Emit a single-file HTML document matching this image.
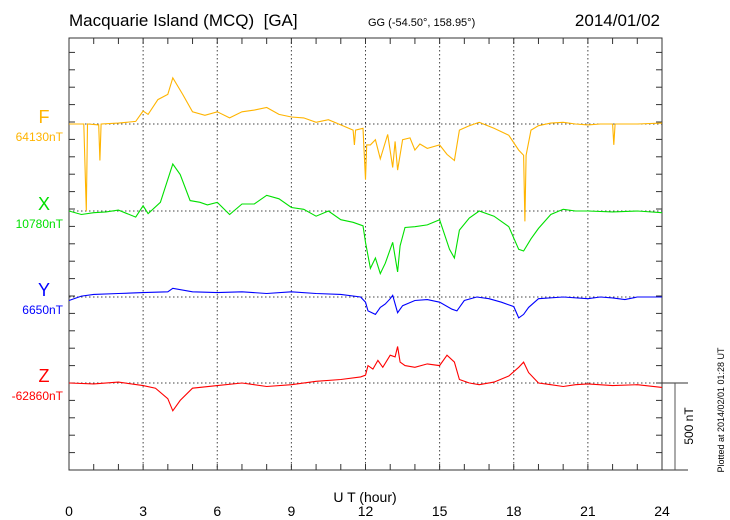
<!DOCTYPE html>
<html><head><meta charset="utf-8"><style>
body{margin:0;background:#fff;}
svg{display:block;font-family:"Liberation Sans",sans-serif;}
</style></head><body>
<svg id="c" width="730" height="520">
<text x="69" y="26" font-size="17">Macquarie Island (MCQ)&#160; [GA]</text>
<text x="368" y="26" font-size="11">GG (-54.50°, 158.95°)</text>
<text x="660" y="26" font-size="17" text-anchor="end">2014/01/02</text>
<text x="365" y="502" font-size="14" text-anchor="middle">U T (hour)</text>
<text transform="translate(724,410) rotate(-90)" font-size="9" text-anchor="middle">Plotted at 2014/02/01 01:28 UT</text>
<text transform="translate(693,426) rotate(-90)" font-size="12" text-anchor="middle">500 nT</text>
<g id="g"></g>
</svg>
<script>
const hoursF=[0,0.6,0.7,0.75,1.2,1.25,1.3,2,2.7,3,3.2,3.6,4.0,4.2,4.6,5,5.5,6,6.5,7,7.5,8,8.5,9,9.5,10,10.5,11,11.5,11.55,11.6,11.9,12,12.05,12.2,12.4,12.6,12.9,13.1,13.2,13.3,13.5,13.8,14,14.2,14.5,15,15.3,15.6,15.8,16.2,16.6,17.2,17.8,18.2,18.4,18.45,18.5,18.7,19,19.5,20,20.5,21,21.5,22,22.05,22.1,23,24];
const valsF=[0,0,-500,0,-5,-210,0,5,15,75,55,140,170,265,170,70,50,70,35,70,80,95,55,40,35,10,25,-5,-35,-120,-35,-25,-320,-120,-120,-90,-200,-60,-250,-100,-265,-90,-80,-150,-115,-140,-120,-175,-210,-35,-10,10,-25,-65,-150,-180,-560,-180,-35,-10,5,10,0,-5,0,0,-120,0,0,5];
const hoursX=[0,0.5,1,1.5,2,2.7,3,3.2,3.7,4.2,4.5,4.9,5.3,5.6,6,6.5,7,7.5,8,8.5,9,9.5,10,10.5,11,11.5,11.9,12,12.2,12.4,12.6,12.8,13.1,13.3,13.4,13.6,14,14.5,15,15.4,15.6,15.8,16.2,16.6,17.2,17.8,18.2,18.4,18.7,19,19.5,20,20.5,21,22,23,24];
const valsX=[0,-20,-10,-5,5,-35,30,-15,50,270,210,60,50,35,50,-20,40,40,90,70,20,10,-30,0,-50,-65,-85,-180,-330,-270,-360,-300,-180,-350,-200,-95,-90,-80,-50,-220,-270,-110,-40,0,-30,-90,-220,-230,-160,-100,-20,10,0,0,-5,0,-10];
const hoursY=[0,0.5,1,2,3,4,4.2,5,6,7,8,9,10,11,11.8,12,12.1,12.4,12.6,12.8,13.0,13.1,13.3,13.5,14,14.5,15,15.5,15.7,16,16.5,17,17.5,18,18.2,18.4,18.6,19,20,21,21.5,22,22.5,23,24];
const valsY=[-20,5,15,20,25,30,50,30,25,30,20,30,20,15,0,-30,-80,-100,-60,-40,-10,10,-90,-50,-20,-15,-30,-70,-80,-20,0,-10,-30,-55,-120,-100,-60,-10,0,-10,0,-5,-15,0,0];
const hoursZ=[0,1,2,3,3.5,4,4.2,4.5,5,6,7,8,9,10,11,11.8,12,12.1,12.3,12.5,12.7,13,13.2,13.3,13.4,13.6,14,14.5,15,15.3,15.6,15.8,16.2,16.6,17.2,17.8,18.2,18.4,18.6,19,19.5,20,20.5,21,22,23,24];
const valsZ=[0,-5,5,-15,-30,-90,-160,-100,-30,-15,0,-20,-10,10,20,35,45,100,80,130,90,160,150,210,120,100,90,110,100,160,120,20,0,-10,5,40,90,120,60,0,-10,-20,-10,-5,-15,-10,-25];
const xTicks=[0,3,6,9,12,15,18,21,24];
const compNames=["F","X","Y","Z"];
const compBases=["64130nT","10780nT","6650nT","-62860nT"];

const L=69,R=662,T=38,B=470;
const pxPerNT=87/500;
const baseY=[124,211,297,383];
const colors=["#ffb400","#00e000","#0000ff","#ff0000"];
const xs=h=>L+(R-L)*h/24;
const ys=(i,v)=>baseY[i]-v*pxPerNT;
const g=document.getElementById('g');
const NS="http://www.w3.org/2000/svg";
function mk(t,a){const e=document.createElementNS(NS,t);for(const k in a)e.setAttribute(k,a[k]);g.appendChild(e);return e;}
for(const h of xTicks){if(h>0&&h<24){const e=mk('line',{x1:xs(h),x2:xs(h),y1:T,y2:B,stroke:'#444','stroke-dasharray':'1.5,2.5','stroke-width':1});

}}
baseY.forEach(y=>{const e=mk('line',{x1:L,x2:R,y1:y,y2:y,stroke:'#444','stroke-dasharray':'1.5,2.5','stroke-width':1});

});
const fr=mk('rect',{x:L,y:T,width:R-L,height:B-T,fill:'none',stroke:'#333','stroke-width':1});


for(let h=1;h<24;h++){mk('line',{x1:xs(h),x2:xs(h),y1:T,y2:T+6,stroke:'#333'});mk('line',{x1:xs(h),x2:xs(h),y1:B,y2:B-6,stroke:'#333'});}
for(let y=B;y>T;y-=100*pxPerNT){mk('line',{x1:L,x2:L+6,y1:y,y2:y,stroke:'#333'});mk('line',{x1:R,x2:R-6,y1:y,y2:y,stroke:'#333'});}
xTicks.forEach(h=>{const t=mk('text',{x:xs(h),y:516,'font-size':14,'text-anchor':'middle'});t.textContent=h;

});
mk('line',{x1:R,x2:688,y1:383,y2:383,stroke:'#333'});
mk('line',{x1:R,x2:688,y1:B,y2:B,stroke:'#333'});
const sb=mk('line',{x1:675,x2:675,y1:383,y2:B,stroke:'#555'});


const H=[hoursF,hoursX,hoursY,hoursZ],V=[valsF,valsX,valsY,valsZ];
for(let i=0;i<4;i++){
 const d=H[i].map((h,j)=>(j?'L':'M')+xs(h).toFixed(1)+','+ys(i,V[i][j]).toFixed(1)).join('');
 const p=mk('path',{d:d,fill:'none',stroke:colors[i],'stroke-width':1.1});
 
 
 const t=mk('text',{x:44,y:baseY[i]-1,'font-size':18,fill:colors[i],'text-anchor':'middle'});t.textContent=compNames[i];
 
 
 const b=mk('text',{x:63,y:baseY[i]+17,'font-size':12,fill:colors[i],'text-anchor':'end'});b.textContent=compBases[i];
 
 
}
</script>
</body></html>
